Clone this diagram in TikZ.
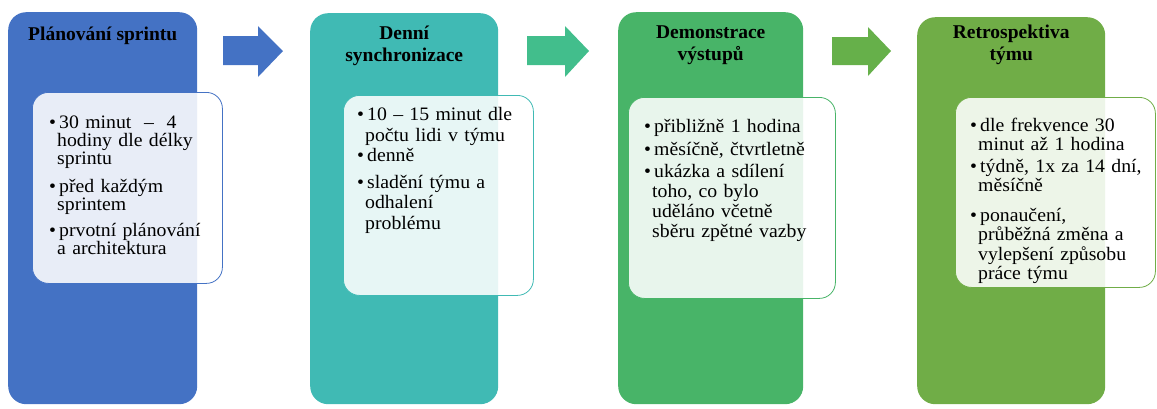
\documentclass[tikz,border=0pt]{standalone}
\usepackage{fontspec}
\setmainfont{Liberation Serif}
\newfontfamily\bodyfont{Liberation Serif}[FakeStretch=1.04]
\usetikzlibrary{calc}
\definecolor{cblue}{HTML}{4472C4}
\definecolor{cteal}{HTML}{40BAB4}
\definecolor{cgreen}{HTML}{48B468}
\definecolor{colive}{HTML}{70AD47}
\definecolor{aTeal}{HTML}{42BE8C}
\definecolor{aGreen}{HTML}{66B04A}
% bulleted entry with hanging indent; lines inside an entry break with \newline
\newcommand\blt[1]{\par\hangindent=8pt\hangafter=1\noindent\makebox[7pt][l]{\textbullet}\hspace{3pt}#1\par}
% fixed-height strut so every text block starts 20pt above its first baseline
\newcommand\topline{\rule{0pt}{20pt}}
\begin{document}
\begin{tikzpicture}[x=1pt,y=-1pt,
  colbox/.style={rounded corners=18pt, anchor=north west, inner sep=0pt, draw=none},
  card/.style={rounded corners=16pt, anchor=north west, inner sep=0pt, fill=white,
    fill opacity=0.88, line width=0.8pt},
  title/.style={anchor=north, inner sep=0pt, align=center,
    font=\fontsize{19.5}{22}\selectfont\bfseries},
  body/.style={anchor=base west, inner sep=0pt, text width=200pt, align=left,
    font=\bodyfont\fontsize{19}{#1}\selectfont}]
\useasboundingbox (0,0) rectangle (1157,408);

% stage columns
\node[colbox, fill=cblue,  minimum width=189pt, minimum height=392pt] (col1) at (8,12) {};
\node[colbox, fill=cteal,  minimum width=188pt, minimum height=391pt] (col2) at (310,13) {};
\node[colbox, fill=cgreen, minimum width=185pt, minimum height=392pt] (col3) at (618,12) {};
\node[colbox, fill=colive, minimum width=188pt, minimum height=387pt] (col4) at (917,17) {};

% titles
\node[title] (t1) at ($(col1.north)+(0,15)$) {Plánování sprintu};
\node[title] (t2) at ($(col2.north)+(0,13)$) {Denní\\synchronizace};
\node[title] (t3) at ($(col3.north)+(0,14)$) {Demonstrace\\výstupů};
\node[title] (t4) at ($(col4.north)+(0,8)$) {Retrospektiva\\týmu};

% detail cards
\node[card, draw=cblue,  minimum width=190pt, minimum height=191pt] (card1) at (32,92) {};
\node[card, draw=cteal,  minimum width=190pt, minimum height=200pt] (card2) at (343,95) {};
\node[card, draw=cgreen, minimum width=207pt, minimum height=201pt] (card3) at (628,97) {};
\node[card, draw=colive, minimum width=200pt, minimum height=190pt] (card4) at (955,97) {};

% card texts
\node[body=18pt] (b1) at ($(card1.north west)+(17,15)$) {%
  \blt{\topline30 minut \ – \ 4\newline hodiny dle délky\newline sprintu}\vspace{10pt}
  \blt{před každým\newline sprintem}\vspace{8pt}
  \blt{prvotní plánování\newline a architektura}};
\node[body=20.5pt] (b2) at ($(card2.north west)+(14,5)$) {%
  \blt{\topline10 – 15 minut dle\newline počtu lidi v týmu}\vspace{0pt}
  \blt{denně}\vspace{6pt}
  \blt{sladění týmu a\newline odhalení\newline problému}};
\node[body=20pt] (b3) at ($(card3.north west)+(16,15)$) {%
  \blt{\topline přibližně 1 hodina}\vspace{3pt}
  \blt{měsíčně, čtvrtletně}\vspace{2pt}
  \blt{ukázka a sdílení\newline toho, co bylo\newline uděláno včetně\newline sběru zpětné vazby}};
\node[body=19.5pt] (b4) at ($(card4.north west)+(15,13)$) {%
  \blt{\topline dle frekvence 30\newline minut až 1 hodina}\vspace{2pt}
  \blt{týdně, 1x za 14 dní,\newline měsíčně}\vspace{10pt}
  \blt{ponaučení,\newline průběžná změna a\newline vylepšení způsobu\newline práce týmu}};

% block arrows between stages
\fill[cblue]  (223,36) -- (258,36) -- (258,26) -- (283,51) -- (258,77) -- (258,65) -- (223,65) -- cycle;
\fill[aTeal]  (527,36) -- (565,36) -- (565,26) -- (589,51) -- (565,77) -- (565,65) -- (527,65) -- cycle;
\fill[aGreen] (832,37) -- (868,37) -- (868,27) -- (891,51) -- (868,76) -- (868,65) -- (832,65) -- cycle;
\end{tikzpicture}
\end{document}
